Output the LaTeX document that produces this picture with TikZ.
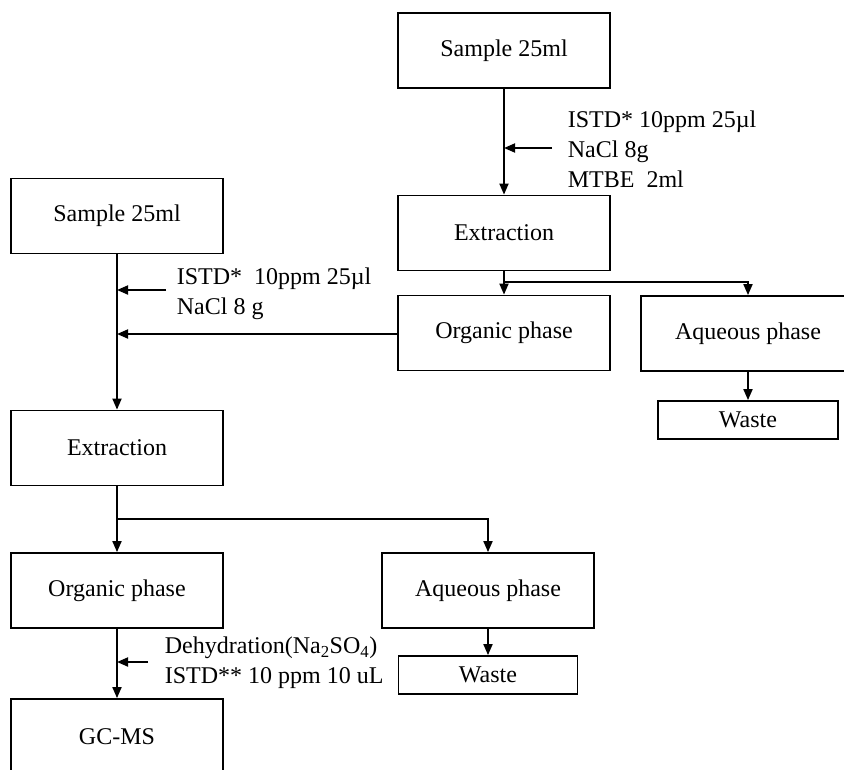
\documentclass[tikz,border=0pt]{standalone}
\usepackage{fontspec}
\setmainfont{Liberation Serif}
\usetikzlibrary{arrows.meta}
\usetikzlibrary{calc}

\begin{document}
\begin{tikzpicture}[x=1pt, y=-1pt, line width=1.8pt,
        box_style/.style={rectangle,draw=black,inner sep=0pt,minimum width=212pt,minimum height=75pt,font=\fontsize{24}{30}\selectfont},
        waste_style/.style={rectangle,draw=black,inner sep=0pt,minimum width=180pt,minimum height=38pt,font=\fontsize{24}{30}\selectfont},
        label_style/.style={anchor=west,align=left,inner sep=0pt,font=\fontsize{24}{30}\selectfont},
        edge_style/.style={draw=black, line width=1.8pt,-{Triangle[length=11pt,width=9pt]}}]

        \useasboundingbox (0,0) rectangle (844,769);

        % first extraction (right)
        \node [box_style](sample_a) at (504,50.5) {Sample 25ml};

        \node [box_style](extract_a) at (504,233) {Extraction};

        \node [box_style](organic_a) at (504,333) {Organic phase};

        \node [box_style,minimum width=214pt](aqueous_a) at (748,333.5) {Aqueous phase};

        \node [waste_style](waste_a) at (748,420) {Waste};

        \node [label_style](reag_a) at (567,149) {ISTD* 10ppm 25µl\\NaCl 8g\\MTBE~ 2ml};

        % second extraction (left)
        \node [box_style](sample_b) at (117,216) {Sample 25ml};

        \node [box_style](extract_b) at (117,448) {Extraction};

        \node [box_style](organic_b) at (117,590.5) {Organic phase};

        \node [box_style](aqueous_b) at (488,590.5) {Aqueous phase};

        \node [waste_style,minimum width=179pt](waste_b) at (488,675) {Waste};

        \node [box_style,minimum height=76pt](gcms) at (117,737) {GC-MS};

        \node [label_style](reag_b) at (176,294) {ISTD*~ 10ppm 25µl\\NaCl 8 g};

        \node [label_style](reag_c) at (164,663) {Dehydration(Na\textsubscript{2}SO\textsubscript{4})\\ISTD** 10 ppm 10 uL};

        \coordinate (in_a) at (504,148);
        \coordinate (from_a) at (552,148);
        \coordinate (split_a) at (504,282);
        \coordinate (in_b) at (117,290);
        \coordinate (from_b) at (166,290);
        \coordinate (join_b) at (117,334);
        \coordinate (split_b) at (117,519);
        \coordinate (in_c) at (117,662);
        \coordinate (from_c) at (148,662);

        \draw [edge_style] (sample_a) -- (extract_a);

        \draw [edge_style] (from_a) -- (in_a);

        \draw [edge_style] (extract_a) -- (organic_a);

        \draw [edge_style] (split_a) -| (aqueous_a);

        \draw [edge_style] (aqueous_a) -- (waste_a);

        \draw [edge_style] (organic_a.west |- join_b) -- (join_b);

        \draw [edge_style] (sample_b) -- (extract_b);

        \draw [edge_style] (from_b) -- (in_b);

        \draw [edge_style] (extract_b) -- (organic_b);

        \draw [edge_style] (split_b) -| (aqueous_b);

        \draw [edge_style] (aqueous_b) -- (waste_b);

        \draw [edge_style] (organic_b) -- (gcms);

        \draw [edge_style] (from_c) -- (in_c);

        \end{tikzpicture}
\end{document}
